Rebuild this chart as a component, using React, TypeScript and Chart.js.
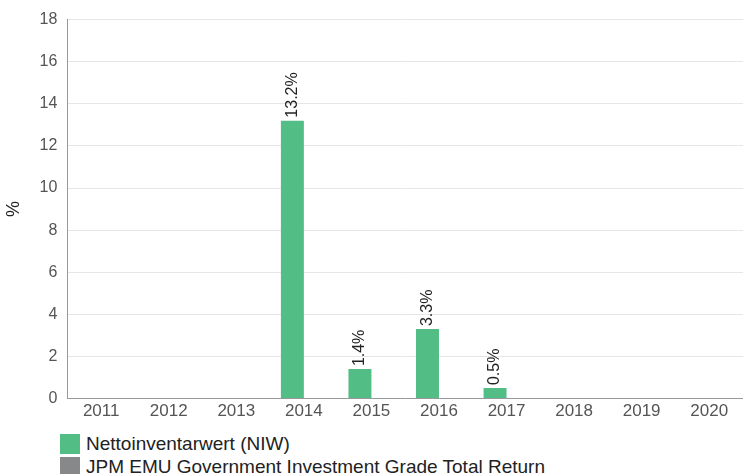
import React, { useEffect, useRef } from "react";
import { Chart, registerables } from "chart.js";

Chart.register(...registerables);

const years = ["2011", "2012", "2013", "2014", "2015", "2016", "2017", "2018", "2019", "2020"];
const niwValues: (number | null)[] = [null, null, null, 13.2, 1.4, 3.3, 0.5, null, null, null];
const benchValues: (number | null)[] = [null, null, null, null, null, null, null, null, null, null];
const seriesNames = ["Nettoinventarwert (NIW)", "JPM EMU Government Investment Grade Total Return"];
const seriesColors = ["#52bd84", "#87888a"];

const FONT = "'Liberation Sans', Arial, sans-serif";

const labelPlugin = {
  id: "barLabels",
  afterDatasetsDraw(chart: any) {
    const ctx = chart.ctx;
    chart.data.datasets.forEach((ds: any, di: number) => {
      const meta = chart.getDatasetMeta(di);
      meta.data.forEach((bar: any, i: number) => {
        const v = ds.data[i];
        if (v === null || v === undefined) return;
        ctx.save();
        ctx.translate(bar.x, bar.y - 3);
        ctx.rotate(-Math.PI / 2);
        ctx.font = `16px ${FONT}`;
        ctx.fillStyle = "#222";
        ctx.textAlign = "left";
        ctx.textBaseline = "middle";
        ctx.fillText(v.toFixed(1) + "%", 0, 0);
        ctx.restore();
      });
    });
  },
};

export default function App() {
  const ref = useRef<HTMLCanvasElement>(null);
  useEffect(() => {
    document.body.style.margin = "0";
    const chart = new Chart(ref.current!, {
      type: "bar",
      data: {
        labels: years,
        datasets: [
          { label: seriesNames[0], data: niwValues, backgroundColor: seriesColors[0], categoryPercentage: 0.68, barPercentage: 1 },
          { label: seriesNames[1], data: benchValues, backgroundColor: seriesColors[1], categoryPercentage: 0.68, barPercentage: 1 },
        ],
      },
      options: {
        animation: false,
        responsive: false,
        maintainAspectRatio: false,
        layout: { padding: { top: 13, right: 0, left: 0, bottom: 0 } },
        plugins: { legend: { display: false }, tooltip: { enabled: false } },
        scales: {
          x: {
            grid: { display: false, drawTicks: false },
            border: { color: "#999" },
            ticks: { color: "#555", font: { size: 17, family: FONT }, padding: 3 },
          },
          y: {
            min: 0,
            max: 18,
            ticks: { stepSize: 2, color: "#555", font: { size: 16, family: FONT }, padding: 10 },
            grid: { color: "#e6e6e6", drawTicks: false },
            border: { color: "#999" },
            title: { display: true, text: "%", color: "#222", font: { size: 18, family: FONT }, padding: { top: 3, bottom: 5 } },
          },
        },
      },
      plugins: [labelPlugin],
    });
    return () => chart.destroy();
  }, []);

  return (
    <div style={{ width: 743, height: 474, overflow: "hidden", fontFamily: FONT }}>
      <canvas ref={ref} width={743} height={425} style={{ display: "block" }} />
      <div style={{ marginLeft: 60, marginTop: 7 }}>
        {seriesNames.map((n, i) => (
          <div key={n} style={{ display: "flex", alignItems: "center", height: 23, fontSize: 19, color: "#222" }}>
            <span style={{ width: 20, height: 20, background: seriesColors[i], display: "inline-block", marginRight: 6, flexShrink: 0 }} />
            <span>{n}</span>
          </div>
        ))}
      </div>
    </div>
  );
}
